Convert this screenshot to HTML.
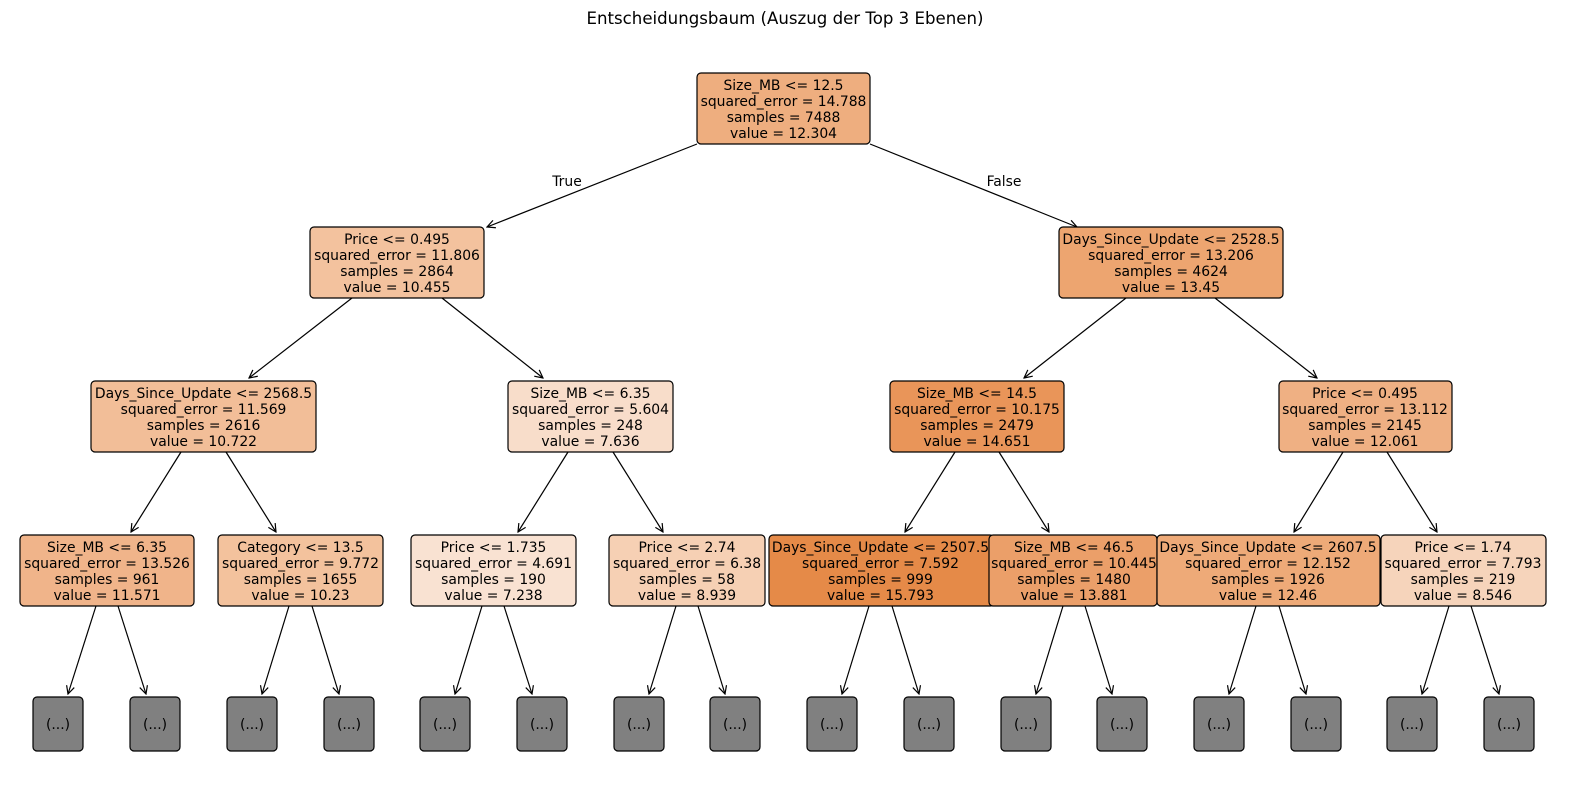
<!DOCTYPE html>
<html><head><meta charset="utf-8"><style>
html,body{margin:0;padding:0;background:#fff;}
svg{display:block;}
text{font-family:"DejaVu Sans","Liberation Sans",sans-serif;font-size:13.9px;fill:#000;text-anchor:middle;}
rect{stroke:#000;stroke-width:1.2;}
line{stroke:#000;stroke-width:1.2;}
</style></head><body>
<svg width="1570" height="812" viewBox="0 0 1570 812" xmlns="http://www.w3.org/2000/svg">
<defs><marker id="a" markerWidth="10" markerHeight="10" refX="9" refY="5" orient="auto" markerUnits="userSpaceOnUse"><polyline points="1,1 9,5 1,9" fill="none" stroke="#000" stroke-width="1.2"/></marker></defs>
<text x="785" y="24" style="font-size:16.6px">Entscheidungsbaum (Auszug der Top 3 Ebenen)</text>

<g marker-end="url(#a)">
<line x1="697" y1="144" x2="487" y2="227"/>
<line x1="870" y1="144" x2="1077" y2="227"/>
<line x1="352" y1="298" x2="249" y2="378"/>
<line x1="442" y1="298" x2="543" y2="378"/>
<line x1="1126" y1="298" x2="1024" y2="378"/>
<line x1="1215" y1="298" x2="1317" y2="378"/>
<line x1="181" y1="452" x2="131" y2="532"/>
<line x1="226" y1="452" x2="276" y2="532"/>
<line x1="568" y1="452" x2="518" y2="532"/>
<line x1="613" y1="452" x2="663" y2="532"/>
<line x1="955" y1="452" x2="905" y2="532"/>
<line x1="999" y1="452" x2="1049" y2="532"/>
<line x1="1343" y1="452" x2="1294" y2="532"/>
<line x1="1387" y1="452" x2="1437" y2="532"/>
<line x1="96" y1="606" x2="68" y2="694"/>
<line x1="118" y1="606" x2="146" y2="694"/>
<line x1="289" y1="606" x2="262" y2="694"/>
<line x1="312" y1="606" x2="339" y2="694"/>
<line x1="482" y1="606" x2="455" y2="694"/>
<line x1="504" y1="606" x2="532" y2="694"/>
<line x1="676" y1="606" x2="649" y2="694"/>
<line x1="698" y1="606" x2="725" y2="694"/>
<line x1="869" y1="606" x2="842" y2="694"/>
<line x1="892" y1="606" x2="919" y2="694"/>
<line x1="1063" y1="606" x2="1036" y2="694"/>
<line x1="1085" y1="606" x2="1112" y2="694"/>
<line x1="1256" y1="606" x2="1229" y2="694"/>
<line x1="1279" y1="606" x2="1306" y2="694"/>
<line x1="1449" y1="606" x2="1422" y2="694"/>
<line x1="1471" y1="606" x2="1499" y2="694"/>
</g>
<text x="567" y="186">True</text>
<text x="1004" y="186">False</text>

<rect x="697" y="73" width="173" height="71" rx="4" fill="#eeae7f"/>
<text x="783.5" y="90">Size_MB &lt;= 12.5</text><text x="783.5" y="106">squared_error = 14.788</text><text x="783.5" y="122">samples = 7488</text><text x="783.5" y="138">value = 12.304</text>

<rect x="310" y="227" width="174" height="71" rx="4" fill="#f3c29e"/>
<text x="397" y="244">Price &lt;= 0.495</text><text x="397" y="260">squared_error = 11.806</text><text x="397" y="276">samples = 2864</text><text x="397" y="292">value = 10.455</text>

<rect x="1059" y="227" width="224" height="71" rx="4" fill="#eda570"/>
<text x="1171" y="244">Days_Since_Update &lt;= 2528.5</text><text x="1171" y="260">squared_error = 13.206</text><text x="1171" y="276">samples = 4624</text><text x="1171" y="292">value = 13.45</text>

<rect x="91" y="381" width="225" height="71" rx="4" fill="#f2be98"/>
<text x="203.5" y="398">Days_Since_Update &lt;= 2568.5</text><text x="203.5" y="414">squared_error = 11.569</text><text x="203.5" y="430">samples = 2616</text><text x="203.5" y="446">value = 10.722</text>

<rect x="508" y="381" width="165" height="71" rx="4" fill="#f8ddca"/>
<text x="590.5" y="398">Size_MB &lt;= 6.35</text><text x="590.5" y="414">squared_error = 5.604</text><text x="590.5" y="430">samples = 248</text><text x="590.5" y="446">value = 7.636</text>

<rect x="890" y="381" width="174" height="71" rx="4" fill="#e99559"/>
<text x="977" y="398">Size_MB &lt;= 14.5</text><text x="977" y="414">squared_error = 10.175</text><text x="977" y="430">samples = 2479</text><text x="977" y="446">value = 14.651</text>

<rect x="1279" y="381" width="173" height="71" rx="4" fill="#efb083"/>
<text x="1365" y="398">Price &lt;= 0.495</text><text x="1365" y="414">squared_error = 13.112</text><text x="1365" y="430">samples = 2145</text><text x="1365" y="446">value = 12.061</text>

<rect x="20" y="535" width="174" height="71" rx="4" fill="#f0b48a"/>
<text x="107" y="552">Size_MB &lt;= 6.35</text><text x="107" y="568">squared_error = 13.526</text><text x="107" y="584">samples = 961</text><text x="107" y="600">value = 11.571</text>

<rect x="218" y="535" width="165" height="71" rx="4" fill="#f3c29d"/>
<text x="300.5" y="552">Category &lt;= 13.5</text><text x="300.5" y="568">squared_error = 9.772</text><text x="300.5" y="584">samples = 1655</text><text x="300.5" y="600">value = 10.23</text>

<rect x="411" y="535" width="165" height="71" rx="4" fill="#f9e2d2"/>
<text x="493.5" y="552">Price &lt;= 1.735</text><text x="493.5" y="568">squared_error = 4.691</text><text x="493.5" y="584">samples = 190</text><text x="493.5" y="600">value = 7.238</text>

<rect x="609" y="535" width="156" height="71" rx="4" fill="#f6d0b4"/>
<text x="687" y="552">Price &lt;= 2.74</text><text x="687" y="568">squared_error = 6.38</text><text x="687" y="584">samples = 58</text><text x="687" y="600">value = 8.939</text>

<rect x="769" y="535" width="225" height="71" rx="4" fill="#e58a48"/>
<text x="880.5" y="552">Days_Since_Update &lt;= 2507.5</text><text x="880.5" y="568">squared_error = 7.592</text><text x="880.5" y="584">samples = 999</text><text x="880.5" y="600">value = 15.793</text>

<rect x="989" y="535" width="168" height="71" rx="4" fill="#eb9f69"/>
<text x="1074" y="552">Size_MB &lt;= 46.5</text><text x="1074" y="568">squared_error = 10.445</text><text x="1074" y="584">samples = 1480</text><text x="1074" y="600">value = 13.881</text>

<rect x="1157" y="535" width="223" height="71" rx="4" fill="#eeaa78"/>
<text x="1268" y="552">Days_Since_Update &lt;= 2607.5</text><text x="1268" y="568">squared_error = 12.152</text><text x="1268" y="584">samples = 1926</text><text x="1268" y="600">value = 12.46</text>

<rect x="1381" y="535" width="165" height="71" rx="4" fill="#f6d4bb"/>
<text x="1463" y="552">Price &lt;= 1.74</text><text x="1463" y="568">squared_error = 7.793</text><text x="1463" y="584">samples = 219</text><text x="1463" y="600">value = 8.546</text>

<g fill="#808080">
<rect x="33" y="697" width="50" height="54" rx="4"/>
<rect x="130" y="697" width="50" height="54" rx="4"/>
<rect x="227" y="697" width="50" height="54" rx="4"/>
<rect x="324" y="697" width="50" height="54" rx="4"/>
<rect x="420" y="697" width="50" height="54" rx="4"/>
<rect x="517" y="697" width="50" height="54" rx="4"/>
<rect x="614" y="697" width="50" height="54" rx="4"/>
<rect x="710" y="697" width="50" height="54" rx="4"/>
<rect x="807" y="697" width="50" height="54" rx="4"/>
<rect x="904" y="697" width="50" height="54" rx="4"/>
<rect x="1001" y="697" width="50" height="54" rx="4"/>
<rect x="1097" y="697" width="50" height="54" rx="4"/>
<rect x="1194" y="697" width="50" height="54" rx="4"/>
<rect x="1291" y="697" width="50" height="54" rx="4"/>
<rect x="1387" y="697" width="50" height="54" rx="4"/>
<rect x="1484" y="697" width="50" height="54" rx="4"/>
</g>
<g>
<text x="58" y="729">(...)</text><text x="155" y="729">(...)</text><text x="252" y="729">(...)</text><text x="349" y="729">(...)</text>
<text x="445" y="729">(...)</text><text x="542" y="729">(...)</text><text x="639" y="729">(...)</text><text x="735" y="729">(...)</text>
<text x="832" y="729">(...)</text><text x="929" y="729">(...)</text><text x="1026" y="729">(...)</text><text x="1122" y="729">(...)</text>
<text x="1219" y="729">(...)</text><text x="1316" y="729">(...)</text><text x="1412" y="729">(...)</text><text x="1509" y="729">(...)</text>
</g>
</svg>
</body></html>
